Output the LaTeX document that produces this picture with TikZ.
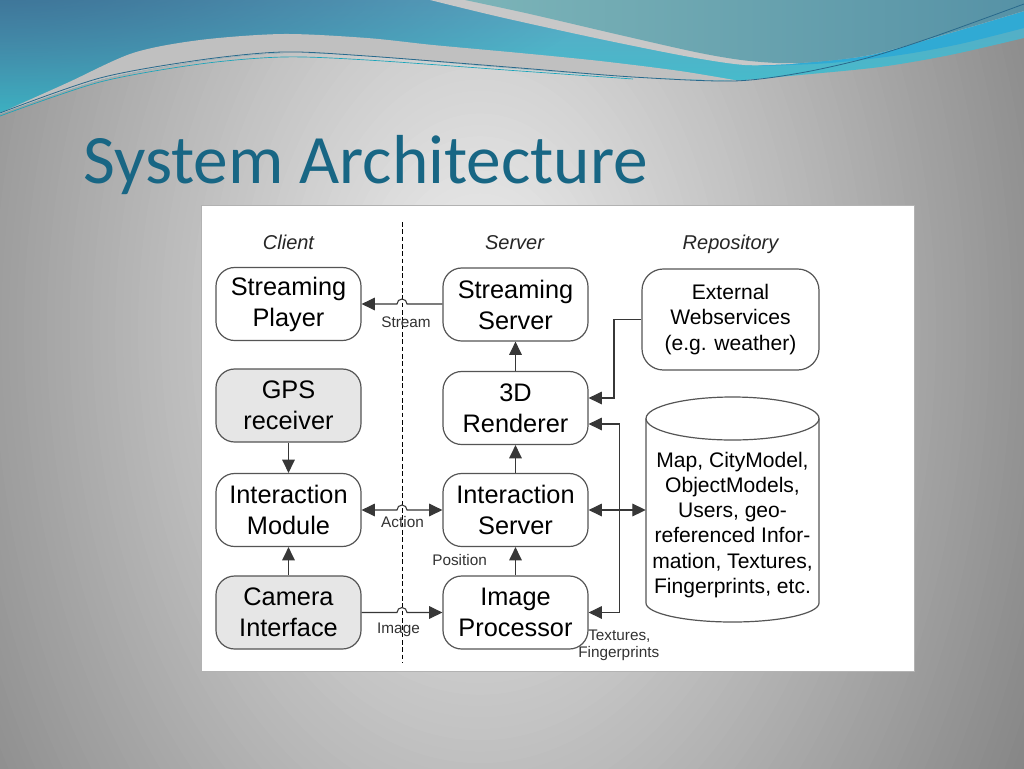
\documentclass[tikz,border=0pt]{standalone}
\usepackage{fontspec}
\setmainfont{Liberation Sans}
\newfontfamily\titlefont{Carlito}
\usetikzlibrary{arrows.meta,calc,fadings}
\definecolor{bgin}{RGB}{242,242,242}
\definecolor{bgout}{RGB}{110,110,110}
\definecolor{wavetop}{RGB}{92,168,196}
\definecolor{wavebot}{RGB}{62,194,206}
\definecolor{steel}{RGB}{52,100,138}
\definecolor{brightblue}{RGB}{48,170,212}
\definecolor{tealL}{RGB}{124,180,184}
\definecolor{tealR}{RGB}{86,146,166}
\definecolor{bandgray}{RGB}{192,192,192}
\definecolor{slivergray}{RGB}{200,200,200}
\definecolor{wline}{RGB}{40,105,140}
\definecolor{titlec}{RGB}{24,102,132}
\definecolor{boxborder}{RGB}{85,85,85}
\definecolor{gpsfill}{RGB}{230,230,230}
\definecolor{linec}{RGB}{55,55,55}
\definecolor{lblc}{RGB}{50,50,50}
\tikzfading[name=cornerfade, inner color=transparent!0, outer color=transparent!100]
\tikzset{
  box/.style={draw=boxborder, line width=0.9pt, rounded corners=14pt, fill=white,
    minimum width=108.75pt, minimum height=54.75pt, inner sep=0pt, align=center,
    font=\fontsize{19}{23.25}\selectfont, text=black},
  gbox/.style={box, fill=gpsfill},
  lbl/.style={font=\fontsize{11.5}{13}\selectfont, text=lblc, inner sep=0pt},
  colhead/.style={font=\itshape\fontsize{15}{18}\selectfont, inner sep=0pt, text=black!85},
  conn/.style={draw=linec, line width=0.8pt},
  arr/.style={conn, -{Triangle[length=10pt,width=9.5pt]}},
  dbl/.style={conn, {Triangle[length=10pt,width=9.5pt]}-{Triangle[length=10pt,width=9.5pt]}},
  divider/.style={draw=black, line width=0.7pt, dash pattern=on 3.5pt off 2pt}
}
\begin{document}
\begin{tikzpicture}[x=0.75pt,y=-0.75pt]
\useasboundingbox (0,0) rectangle (1024,768);
% background
\begin{scope}
\clip (0,0) rectangle (1024,768);
\fill[bgout] (0,0) rectangle (1024,768);
\foreach \i in {0,...,99} {
  \pgfmathsetmacro\tt{1-\i/100}
  \pgfmathsetmacro\pp{100*\tt}
  \fill[bgout!\pp!bgin] (480,330) ellipse ({760*\tt} and {1140*\tt});
}
% blue wave
\def\bluewave{(0,0) -- (1024,0) -- (1024,38)
  -- plot[smooth] coordinates {(1024,38) (950,55) (880,67) (800,75) (733,81)}
  -- plot[smooth] coordinates {(733,81) (633,77) (520,69) (367,56) (283,53) (200,61) (100,80) (0,114)}
  -- cycle}
\shade[top color=wavetop, bottom color=wavebot] \bluewave;
\begin{scope}
\clip \bluewave;
\fill[steel, path fading=cornerfade, opacity=0.9] (0,-40) ellipse (620 and 190);
\end{scope}
% bright blue streak (right)
\fill[brightblue]
  plot[smooth] coordinates {(760,66) (830,63) (900,55) (960,44) (1024,28)}
  -- (1024,0) -- cycle;
% gray band
\fill[bandgray]
  plot[smooth] coordinates {(0,113) (67,83) (133,53) (200,40) (283,34) (367,38) (433,45) (520,53) (600,61) (680,71) (740,81)}
  -- plot[smooth] coordinates {(740,81) (633,77) (520,69) (367,56) (283,53) (200,61) (100,80) (0,114)}
  -- cycle;
% sliver
\fill[slivergray]
  plot[smooth] coordinates {(430,0) (500,17) (600,39) (690,57) (745,65) (790,64)}
  -- plot[smooth] coordinates {(790,64) (800,63) (870,55) (950,33) (1024,11)}
  -- (1024,0) -- cycle;
% upper-right teal
\shade[left color=tealL, right color=tealR]
  plot[smooth] coordinates {(465,0) (530,14) (620,35) (700,53) (750,61) (800,63) (870,55) (950,33) (1024,11)}
  -- (1024,0) -- cycle;
% thin lines
\draw[wline, line width=0.6pt]
  plot[smooth] coordinates {(0,113) (100,78) (200,60) (283,52) (367,56) (520,68) (633,77) (733,81) (800,73) (867,58) (933,37) (1024,4)};
\draw[wline!60!cyan, line width=0.5pt]
  plot[smooth] coordinates {(0,116) (100,82) (200,64) (283,57) (367,60) (520,71) (633,79)};
\end{scope}
% title
\node[anchor=base west, inner sep=0pt, font=\titlefont\fontsize{52}{60}\selectfont, text=titlec] (title) at (83,183) {System Architecture};
% diagram panel
\fill[white, draw=black!30, line width=0.6pt] (201,205) rectangle (914,671);
% column headers
\node[colhead, anchor=base] (hclient) at (288.5,249) {Client};
\node[colhead, anchor=base] (hserver) at (514.5,249) {Server};
\node[colhead, anchor=base] (hrepo) at (730.5,249) {Repository};
% divider
\draw[divider] (402,222) -- (402,663);
% boxes
\node[box] (sp) at (288.5,304) {Streaming\\Player};
\node[box] (ss) at (515.5,304.5) {Streaming\\Server};
\node[gbox] (gps) at (288.5,405.5) {GPS\\receiver};
\node[box] (r3d) at (515.5,408) {3D\\Renderer};
\node[box] (im) at (288.5,510) {Interaction\\Module};
\node[box] (is) at (515.5,510) {Interaction\\Server};
\node[gbox] (cam) at (288.5,612.5) {Camera\\Interface};
\node[box] (ip) at (515.5,612.5) {Image\\Processor};
\node[box, minimum width=132.75pt, minimum height=75.75pt, rounded corners=16pt,
  font=\fontsize{15.8}{19}\selectfont] (web) at (730.5,319.5) {External\\Webservices\\(e.g. weather)};
% cylinder
\filldraw[fill=white, draw=boxborder, line width=0.9pt]
  (646,418.5) -- (646,603) arc[start angle=180, end angle=0, x radius=86.5, y radius=19]
  -- (819,418.5) arc[start angle=360, end angle=180, x radius=86.5, y radius=21.5] -- cycle;
\draw[boxborder, line width=0.9pt] (646,418.5) arc[start angle=180, end angle=0, x radius=86.5, y radius=21.5];
\node[inner sep=0pt, align=center, minimum width=129.75pt, font=\fontsize{15.8}{18.8}\selectfont] (repo) at (732.5,525)
  {Map, CityModel,\\ObjectModels,\\Users, geo-\\referenced Infor-\\mation, Textures,\\Fingerprints, etc.};
% connectors
\coordinate (hopA) at (402,304);
\draw[arr] (ss.west |- hopA) -- ($(hopA)+(5,0)$) arc[start angle=0, end angle=-180, radius=5] -- (sp.east |- hopA);
\draw[arr] (r3d.north) -- (ss.south);
\draw[arr] (gps.south) -- (im.north);
\coordinate (hopB) at (402,510);
\draw[dbl] (im.east) -- ($(hopB)+(-5,0)$) arc[start angle=180, end angle=360, radius=5] -- (is.west);
\draw[arr] (is.north) -- (r3d.south);
\draw[arr] (cam.north) -- (im.south);
\coordinate (hopC) at (402,612.5);
\draw[arr] (cam.east) -- ($(hopC)+(-5,0)$) arc[start angle=180, end angle=360, radius=5] -- (ip.west);
\draw[arr] (ip.north) -- (is.south);
\coordinate (webk) at (614,398);
\draw[arr] (web.west) -| (webk) -- (r3d.east |- webk);
\coordinate (bustop) at (619.5,424);
\coordinate (busbot) at (619.5,612.5);
\draw[dbl] (r3d.east |- bustop) -- (bustop) -- (busbot) -- (ip.east);
\draw[dbl] (is.east) -- (is.east -| repo.west);
% labels
\node[lbl, anchor=base] (lstream) at (406,327) {Stream};
\node[lbl, anchor=base] (laction) at (402.5,527) {Action};
\node[lbl, anchor=base] (limage) at (398.5,633) {Image};
\node[lbl, anchor=base west] (lpos) at (432,565) {Position};
\node[lbl, anchor=base west] (ltex) at (588,640) {Textures,};
\node[lbl, anchor=base west] (lfing) at (578,657) {Fingerprints};
\end{tikzpicture}
\end{document}
